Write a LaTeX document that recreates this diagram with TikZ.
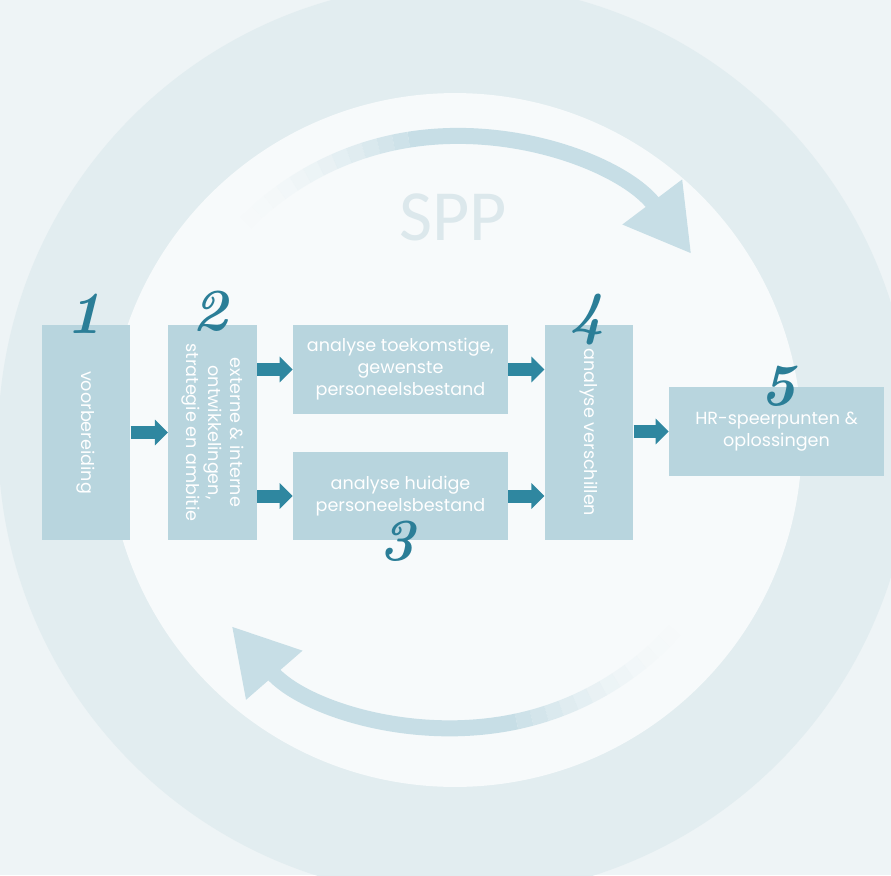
\documentclass[tikz,border=0pt]{standalone}
\usepackage{fontspec}
\usepackage{graphicx}
\usetikzlibrary{arrows.meta,calc}
\newfontfamily\boxfont{Poppins}
\newfontfamily\sppfont{Carlito}
\definecolor{paletone}{HTML}{EEF4F6}
\definecolor{bandtone}{HTML}{E2EDF0}
\definecolor{disktone}{HTML}{F7FAFB}
\definecolor{arcblue}{HTML}{C7DEE6}
\definecolor{boxblue}{HTML}{B8D5DE}
\definecolor{flowteal}{HTML}{2F87A0}
\definecolor{numteal}{HTML}{2B7E97}
\definecolor{sppgrey}{HTML}{DCE8EC}

\begin{document}
\begin{tikzpicture}[x=0.02cm,y=-0.02cm,
    stage/.style={fill=boxblue,text=white,inner sep=0pt,align=center,
      font=\boxfont\fontsize{10}{12.5}\selectfont},
    tall/.style={stage,minimum width=1.77cm,minimum height=4.3cm},
    wide/.style={stage,minimum width=4.3cm,minimum height=1.77cm},
    flow/.style={draw=flowteal,line width=0.26cm,-{Triangle[width=0.5cm,length=0.26cm]}},
    roundarc/.style={draw=arcblue,line width=0.32cm},
    stepnum/.style={text=numteal,font=\bfseries\itshape\fontsize{34}{34}\selectfont}]
        % background with the big ring
        \clip (0,0) rectangle (891,875);
        \fill[paletone] (0,0) rectangle (891,875);
        \coordinate (ringc) at (455,440);
        \fill[bandtone] (ringc) circle[radius=9.14cm];
        \fill[disktone] (ringc) circle[radius=6.94cm];
        % cycle arrows (tails fade out)
        \coordinate (hub) at (455,432);
        \foreach \a [count=\i, evaluate=\i as \o using (\i/13)^2] in {135,132,...,102}
            \draw[roundarc,opacity=\o] ($(hub)+(\a:5.92cm)$) arc[start angle=\a,end angle=\a-3,radius=5.92cm];
        \draw[roundarc,-{Triangle[width=1.4cm,length=1.3cm]},arcblue] ($(hub)+(99:5.92cm)$) arc[start angle=99,end angle=37,radius=5.92cm];
        \foreach \a [count=\i, evaluate=\i as \o using (\i/13)^2] in {318,315,...,285}
            \draw[roundarc,opacity=\o] ($(hub)+(\a:5.92cm)$) arc[start angle=\a,end angle=\a-3,radius=5.92cm];
        \draw[roundarc,-{Triangle[width=1.4cm,length=1.3cm]},arcblue] ($(hub)+(282:5.92cm)$) arc[start angle=282,end angle=221,radius=5.92cm];
        \node[text=sppgrey,font=\sppfont\fontsize{41}{41}\selectfont] (spp) at (453,217) {SPP};

        \node[tall] (prep) at (86,432.5) {\rotatebox{-90}{voorbereiding}};
        \node[tall] (ext) at (212.5,432.5) {\rotatebox{-90}{\begin{tabular}{@{}c@{}}externe \& interne\\ontwikkelingen,\\strategie en ambitie\end{tabular}}};
        \node[wide] (future) at (400.5,369.5) {analyse toekomstige,\\gewenste\\personeelsbestand};
        \node[wide] (current) at (400.5,496) {analyse huidige\\personeelsbestand};
        \node[tall] (gap) at (589,432.5) {\rotatebox{-90}{analyse verschillen}};
        \node[wide] (hr) at (776.5,431.5) {HR-speerpunten \&\\oplossingen};

        \draw[flow] (prep) -- (ext);
        \draw[flow] (ext.east |- future.west) -- (future.west);
        \draw[flow] (ext.east |- current.west) -- (current.west);
        \draw[flow] (future.east) -- (future.east -| gap.west);
        \draw[flow] (current.east) -- (current.east -| gap.west);
        \draw[flow] (gap.east |- hr.west) -- (hr.west);

        \node[stepnum] (n1) at (84,314) {1};
        \node[stepnum] (n2) at (210,311) {2};
        \node[stepnum] (n3) at (397,541) {3};
        \node[stepnum] (n4) at (587,320) {4};
        \node[stepnum] (n5) at (778,386) {5};
    \end{tikzpicture}
\end{document}
